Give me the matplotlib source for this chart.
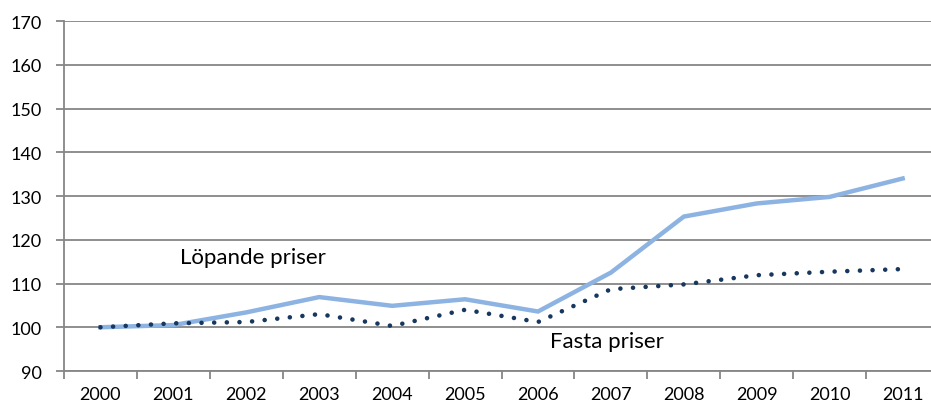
import matplotlib.pyplot as plt
import numpy as np

years = ['2000', '2001', '2002', '2003', '2004', '2005',
         '2006', '2007', '2008', '2009', '2010', '2011']
lopande = [100.0, 100.5, 103.4, 106.9, 104.9, 106.4,
           103.6, 112.5, 125.3, 128.3, 129.8, 134.0]
fasta = [100.0, 100.9, 101.2, 103.0, 100.3, 104.0,
         101.2, 108.7, 109.8, 111.9, 112.7, 113.3]

plt.rcParams['font.family'] = ['Lato', 'DejaVu Sans']

fig = plt.figure(figsize=(9.31, 4.06), dpi=100)
ax = fig.add_axes([0.0687, 0.0837, 0.94, 0.8621])

x = np.arange(len(years)) + 0.5
grid_col = '#868686'

ax.plot(x, lopande, color='#8DB3E2', lw=3.2, solid_joinstyle='miter', zorder=3)
ax.plot(x, fasta, color='#17375E', lw=3.3, linestyle=(0, (0.01, 2.75)),
        dash_capstyle='round', zorder=4)

ax.text(1.59, 116, 'Löpande priser', fontsize=16, va='center', ha='left')
ax.text(6.67, 96.8, 'Fasta priser', fontsize=16, va='center', ha='left')

ax.set_xlim(0, len(years))
ax.set_ylim(90, 170)
ax.set_yticks(np.arange(90, 171, 10))
ax.set_xticks(np.arange(0, len(years) + 1))
ax.set_xticklabels([])
ax.set_xticks(x, minor=True)
ax.set_xticklabels(years, minor=True)
ax.tick_params(axis='x', which='minor', length=0, pad=11, labelsize=13)
ax.tick_params(axis='x', which='major', length=6, width=1.3, color=grid_col)
ax.tick_params(axis='y', length=6, width=1.3, color=grid_col, pad=10, labelsize=13)

ax.yaxis.grid(True, color=grid_col, lw=1.3)
ax.set_axisbelow(True)
for s in ['top', 'right']:
    ax.spines[s].set_visible(False)
for s in ['left', 'bottom']:
    ax.spines[s].set_color(grid_col)
    ax.spines[s].set_linewidth(1.3)

fig.savefig('out.png', dpi=100)
